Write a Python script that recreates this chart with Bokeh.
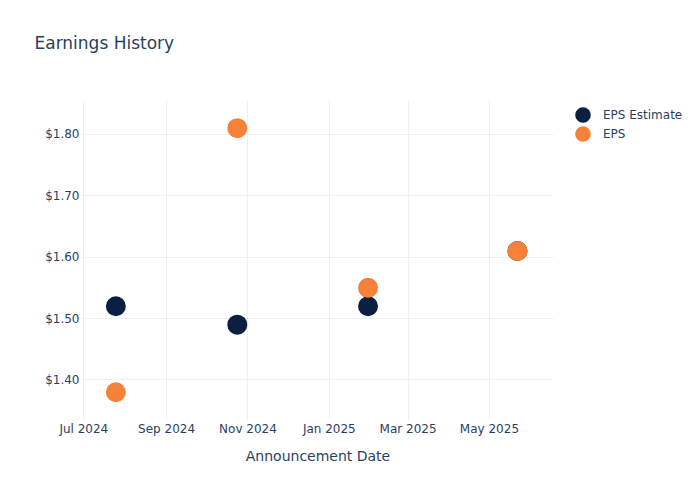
import pandas as pd
from bokeh.plotting import figure
from bokeh.models import (ColumnDataSource, FixedTicker, DatetimeTickFormatter,
                          NumeralTickFormatter, Range1d, Legend, LegendItem, Title)
from bokeh.embed import file_html
from bokeh.resources import INLINE

dates = ["2024-07-25", "2024-10-24", "2025-01-30", "2025-05-22"]
eps_estimate = [1.52, 1.49, 1.52, 1.61]
eps_actual = [1.38, 1.81, 1.55, 1.61]
tick_dates = ["2024-07-01", "2024-09-01", "2024-11-01", "2025-01-01", "2025-03-01", "2025-05-01"]
y_ticks = [1.4, 1.5, 1.6, 1.7, 1.8]

FONT = "DejaVu Sans"
TXT = "#2a3f5f"
GRID = "#ebf0f8"

x = pd.to_datetime(dates)
src_est = ColumnDataSource(dict(x=x, y=eps_estimate))
src_eps = ColumnDataSource(dict(x=x, y=eps_actual))

p = figure(width=700, height=500, output_backend="svg", toolbar_location=None,
           x_axis_type="datetime",
           x_range=Range1d(pd.Timestamp("2024-06-30").value / 1e6, pd.Timestamp("2025-06-18").value / 1e6),
           y_range=Range1d(1.334, 1.855),
           min_border_left=82, min_border_right=147, min_border_top=100, min_border_bottom=80,
           frame_width=471, frame_height=320)
p.outline_line_color = None
p.background_fill_color = "white"
p.border_fill_color = "white"
p.title_location = None

# spacer between frame and title, then the title itself (outermost)
spacer = Title(text=" ", text_font_size="1px", standoff=43)
p.add_layout(spacer, "above")
main_title = Title(text="Earnings History", text_font=FONT, text_font_size="17px",
                   text_color=TXT, text_font_style="normal", vertical_align="top",
                   standoff=0, offset=-48)
p.add_layout(main_title, "above")

r1 = p.scatter("x", "y", source=src_est, size=12, line_width=8, color="#0b1f41", line_color="#0b1f41")
r2 = p.scatter("x", "y", source=src_eps, size=12, line_width=8, color="#f58238", line_color="#f58238")

legend = Legend(items=[LegendItem(label="EPS Estimate", renderers=[r1]),
                       LegendItem(label="EPS", renderers=[r2])],
                location=(20, 277), border_line_color=None, background_fill_alpha=0,
                label_text_font=FONT, label_text_font_size="12px", label_text_color=TXT,
                glyph_width=19, glyph_height=19, spacing=0, padding=0, margin=0,
                label_standoff=11, label_height=14)
p.add_layout(legend, "right")

for ax in (p.xaxis[0], p.yaxis[0]):
    ax.axis_line_color = None
    ax.major_tick_line_color = None
    ax.minor_tick_line_color = None
    ax.major_tick_out = 0
    ax.major_tick_in = 0
    ax.minor_tick_out = 0
    ax.minor_tick_in = 0
    ax.major_label_text_font = FONT
    ax.major_label_text_font_size = "12px"
    ax.major_label_text_color = TXT

p.xaxis.ticker = FixedTicker(ticks=[pd.Timestamp(d).value / 1e6 for d in tick_dates])
p.xaxis.formatter = DatetimeTickFormatter(months="%b %Y", days="%b %Y", years="%b %Y")
p.xaxis.major_label_standoff = 1
p.xaxis.axis_label = "Announcement Date"
p.xaxis.axis_label_text_font = FONT
p.xaxis.axis_label_text_font_size = "14px"
p.xaxis.axis_label_text_color = TXT
p.xaxis.axis_label_text_font_style = "normal"
p.xaxis.axis_label_standoff = 9

p.yaxis.ticker = FixedTicker(ticks=y_ticks)
p.yaxis.formatter = NumeralTickFormatter(format="$0.00")
p.yaxis.major_label_standoff = 3

p.xgrid.grid_line_color = GRID
p.ygrid.grid_line_color = GRID
p.xgrid.ticker = p.xaxis.ticker
p.ygrid.ticker = p.yaxis.ticker

open("out.html", "w").write(file_html(p, INLINE))
